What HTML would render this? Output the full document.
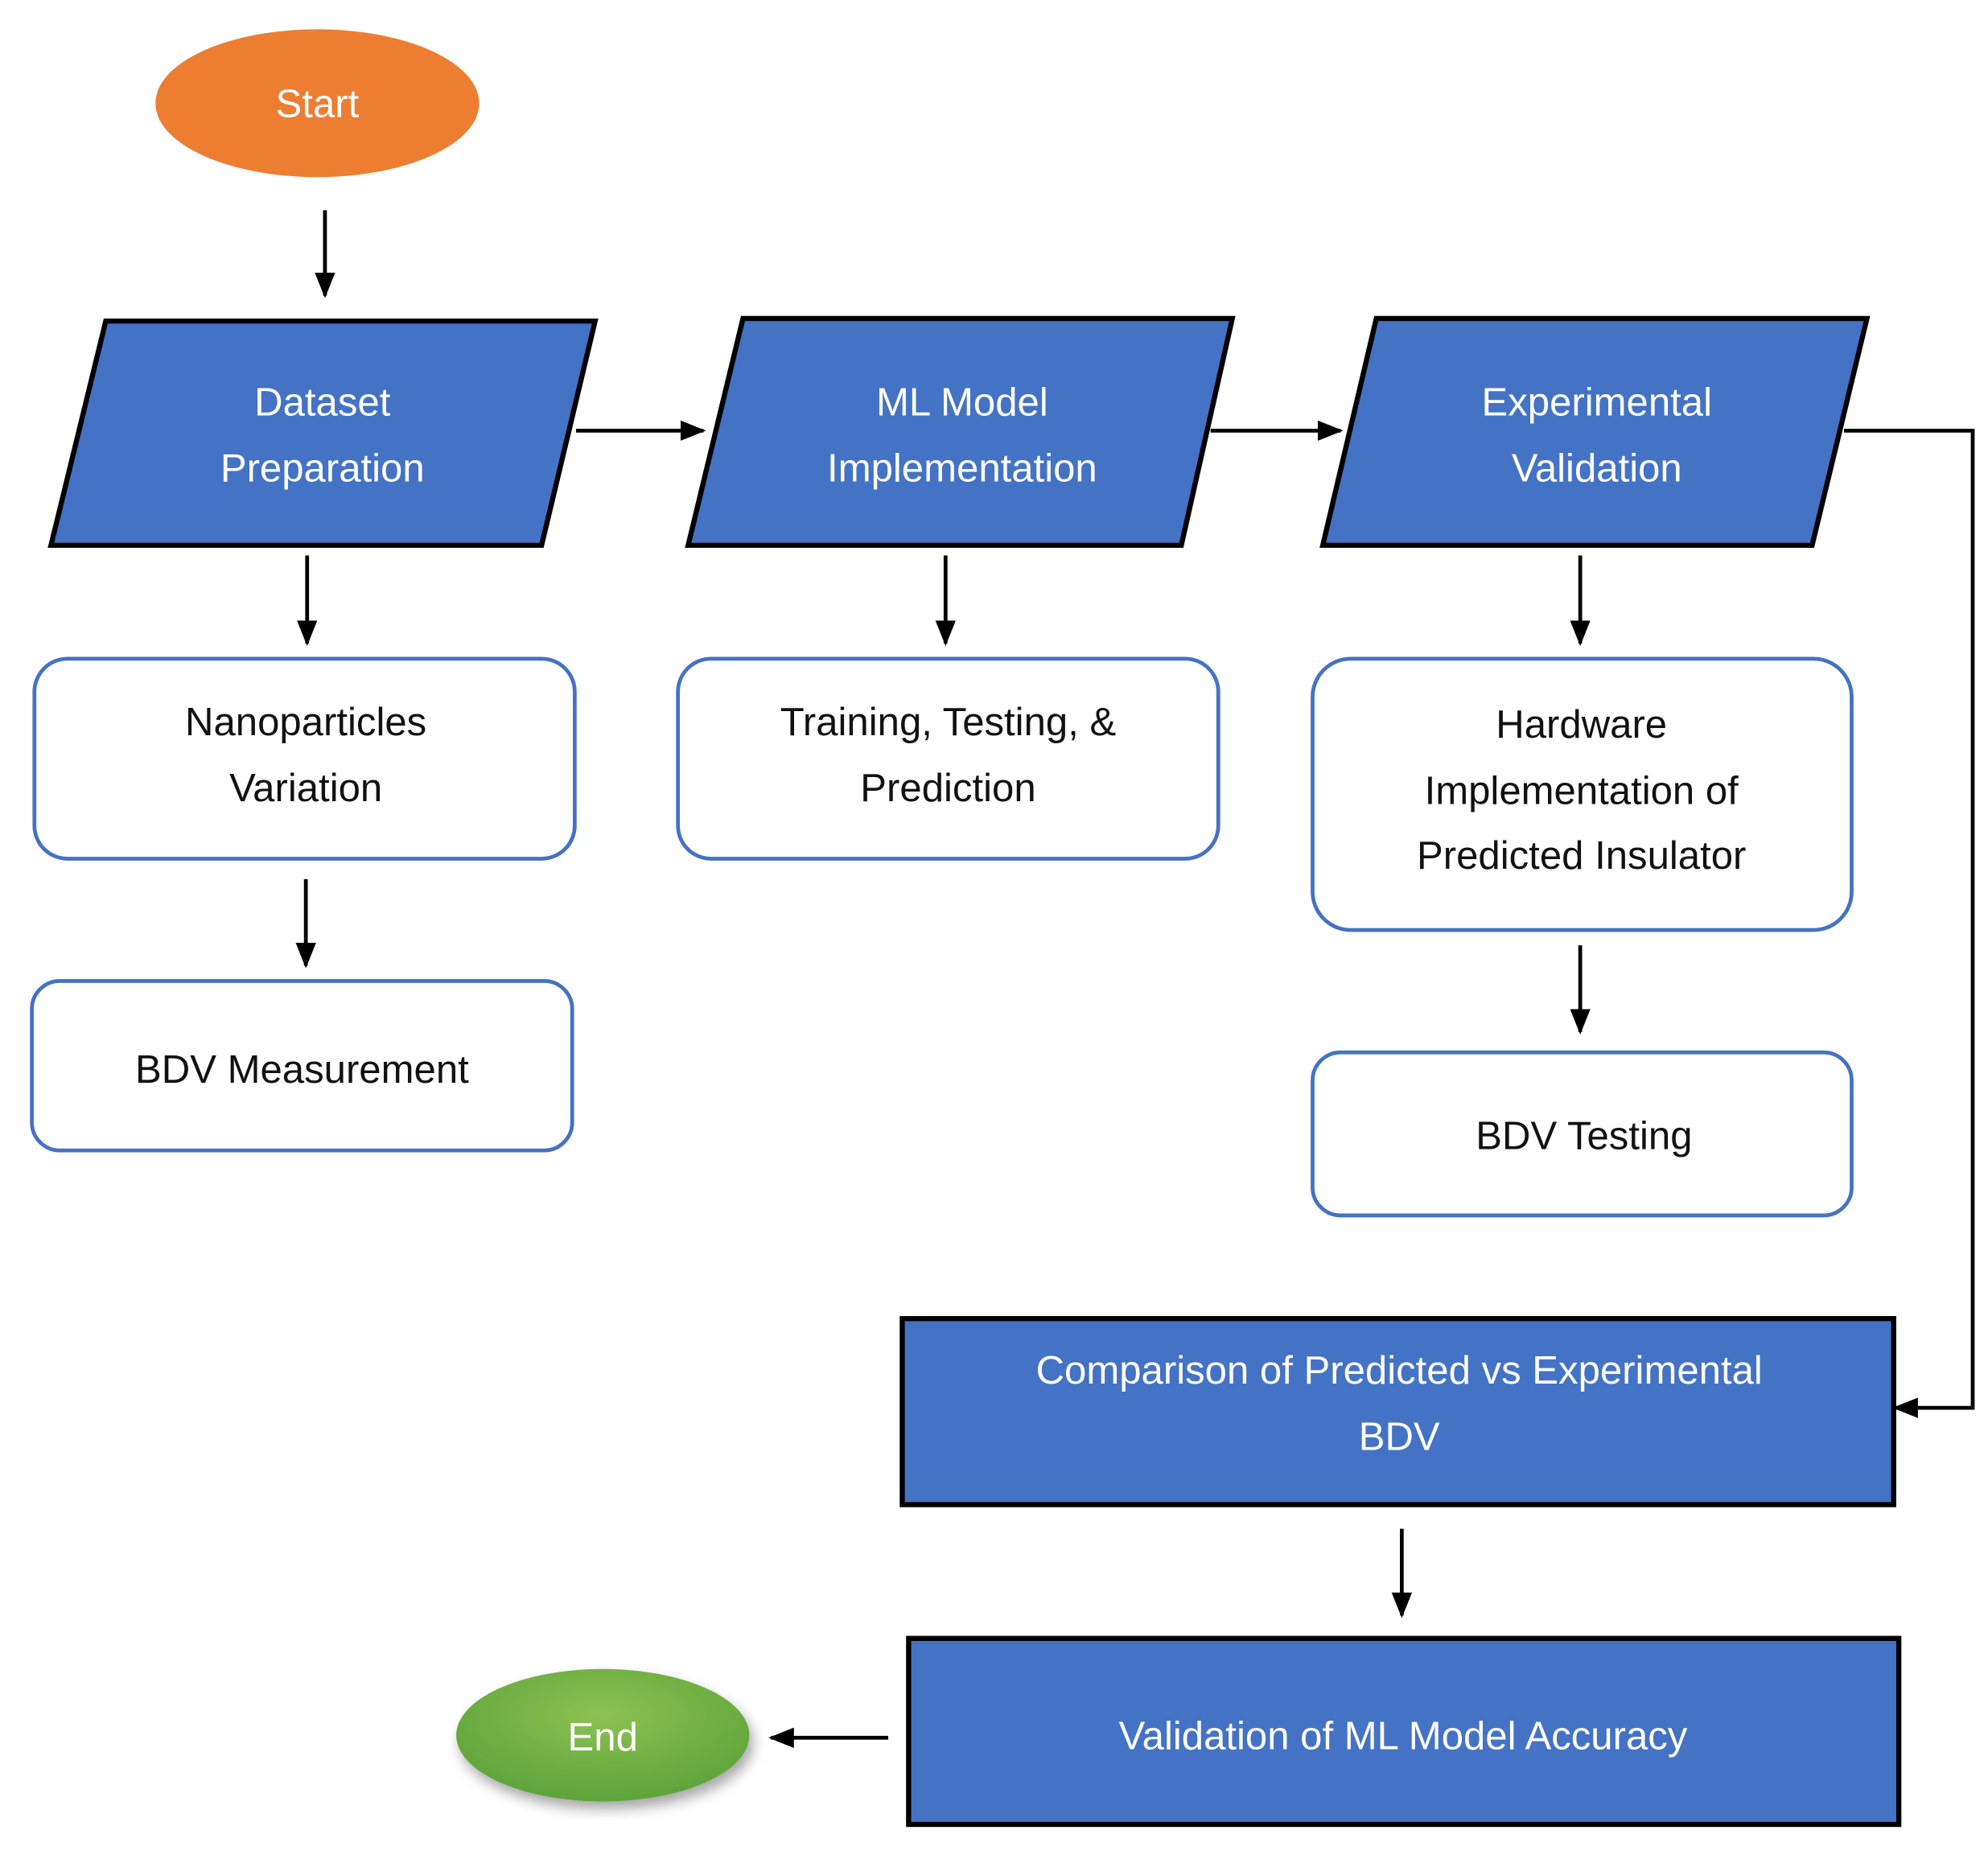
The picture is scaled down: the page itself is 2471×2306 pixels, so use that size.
<!DOCTYPE html>
<html><head><meta charset="utf-8"><style>
html,body{margin:0;padding:0;background:#fff;}
svg{display:block;}
text{font-family:"Liberation Sans",sans-serif;font-size:31px;text-anchor:middle;}
.w{fill:#fff;}
.k{fill:#111;}
</style></head><body>
<svg width="2471" height="2306" viewBox="0 0 1560 1456" preserveAspectRatio="none" xmlns="http://www.w3.org/2000/svg">
<defs>
<marker id="a" markerWidth="20" markerHeight="16" refX="18" refY="8" orient="auto" markerUnits="userSpaceOnUse">
<path d="M0,0 L20,8 L0,16 z" fill="#000"/></marker>
<radialGradient id="g" cx="50%" cy="35%" r="65%"><stop offset="0" stop-color="#8cc152"/><stop offset="1" stop-color="#5ea33a"/></radialGradient>
<filter id="sh" x="-20%" y="-20%" width="150%" height="160%"><feDropShadow dx="3" dy="6" stdDeviation="5" flood-color="#000" flood-opacity="0.35"/></filter>
</defs>
<rect width="1560" height="1456" fill="#fff"/>
<g stroke="#000" stroke-width="3" fill="none" marker-end="url(#a)">
<line x1="255" y1="165" x2="255" y2="232"/>
<line x1="452" y1="338" x2="552" y2="338"/>
<line x1="950" y1="338" x2="1052" y2="338"/>
<polyline points="1447,338 1548,338 1548,1105 1487,1105"/>
<line x1="241" y1="436" x2="241" y2="505"/>
<line x1="742" y1="436" x2="742" y2="505"/>
<line x1="1240" y1="436" x2="1240" y2="505"/>
<line x1="240" y1="690" x2="240" y2="758"/>
<line x1="1240" y1="742" x2="1240" y2="810"/>
<line x1="1100" y1="1200" x2="1100" y2="1268"/>
<line x1="697" y1="1364" x2="605" y2="1364"/>
</g>
<ellipse cx="249" cy="81" rx="127" ry="58" fill="#ed7d31"/>
<text class="w" x="249" y="92">Start</text>
<g fill="#4472c4" stroke="#000" stroke-width="4">
<polygon points="83,252 467,252 425,428 40,428"/>
<polygon points="583,250 967,250 927,428 540,428"/>
<polygon points="1080,250 1465,250 1422,428 1038,428"/>
<rect x="708" y="1035" width="778" height="146"/>
<rect x="713" y="1286" width="777" height="146"/>
</g>
<text class="w" x="253" y="326">Dataset</text>
<text class="w" x="253" y="378">Preparation</text>
<text class="w" x="755" y="326">ML Model</text>
<text class="w" x="755" y="378">Implementation</text>
<text class="w" x="1253" y="326">Experimental</text>
<text class="w" x="1253" y="378">Validation</text>
<g fill="#fff" stroke="#4472c4" stroke-width="3">
<rect x="27" y="517" width="424" height="157" rx="26"/>
<rect x="532" y="517" width="424" height="157" rx="26"/>
<rect x="1030" y="517" width="423" height="213" rx="30"/>
<rect x="1030" y="826" width="423" height="128" rx="22"/>
<rect x="25" y="770" width="424" height="133" rx="22"/>
</g>
<text class="k" x="240" y="577">Nanoparticles</text>
<text class="k" x="240" y="629">Variation</text>
<text class="k" x="744" y="577">Training, Testing, &amp;</text>
<text class="k" x="744" y="629">Prediction</text>
<text class="k" x="1241" y="579">Hardware</text>
<text class="k" x="1241" y="631">Implementation of</text>
<text class="k" x="1241" y="682">Predicted Insulator</text>
<text class="k" x="1243" y="902">BDV Testing</text>
<text class="k" x="237" y="850">BDV Measurement</text>
<text class="w" x="1098" y="1086">Comparison of Predicted vs Experimental</text>
<text class="w" x="1098" y="1138">BDV</text>
<text class="w" x="1101" y="1373">Validation of ML Model Accuracy</text>
<ellipse cx="473" cy="1362" rx="115" ry="52" fill="url(#g)" filter="url(#sh)"/>
<text class="w" x="473" y="1374">End</text>
</svg>
</body></html>
